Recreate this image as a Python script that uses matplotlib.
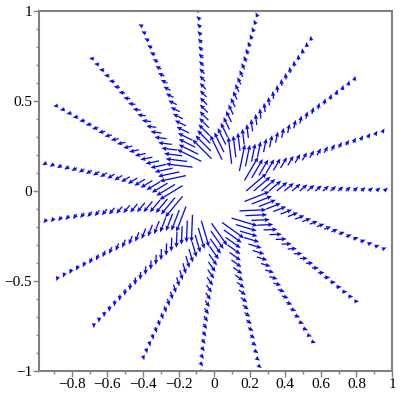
import numpy as np
import matplotlib
matplotlib.use("Agg")
import matplotlib.pyplot as plt
from matplotlib.ticker import MultipleLocator, FixedLocator

# Polar sample grid of the field plot (19 distinct spokes, 20 radii)
n_spokes = 19
theta_values = np.arange(n_spokes) * 2 * np.pi / n_spokes
r_values = [0.18, 0.223, 0.266, 0.309, 0.352, 0.395, 0.438, 0.481, 0.524, 0.568,
            0.611, 0.654, 0.697, 0.740, 0.783, 0.826, 0.869, 0.912, 0.955, 0.998]

# spiral field: radial and tangential components ~ 1/r
radial_coeff = 1.0
tangential_coeff = 0.85

x_ticks = [-0.8, -0.6, -0.4, -0.2, 0, 0.2, 0.4, 0.6, 0.8, 1]
y_ticks = [-1, -0.5, 0, 0.5, 1]

R, T = np.meshgrid(np.array(r_values), theta_values)
X = R * np.cos(T)
Y = R * np.sin(T)
Fr = radial_coeff / R
Ft = tangential_coeff / R
U = Fr * np.cos(T) - Ft * np.sin(T)
V = Fr * np.sin(T) + Ft * np.cos(T)

fig = plt.figure(figsize=(4, 4), dpi=100)
ax = fig.add_axes([39 / 400, 29 / 400, (392 - 39) / 400, (371 - 11) / 400])
ax.quiver(X, Y, U, V, color="#0a0aee", pivot="tail", angles="xy",
          scale_units="xy", scale=48, units="dots", width=1.3,
          headwidth=3.5, headlength=4.0, headaxislength=3.5,
          minshaft=1.0, minlength=0.5)

ax.set_xlim(-0.985, 1.0)
ax.set_ylim(-1.0, 1.0)
ax.xaxis.set_major_locator(FixedLocator(x_ticks))
ax.yaxis.set_major_locator(FixedLocator(y_ticks))
ax.xaxis.set_minor_locator(MultipleLocator(0.1))
ax.yaxis.set_minor_locator(MultipleLocator(0.1))


def fmt(v):
    s = ("%g" % v)
    return s.replace("-", "\u2212")


ax.set_xticklabels([fmt(v) for v in x_ticks])
ax.set_yticklabels([fmt(v) for v in y_ticks])
for lab in ax.get_xticklabels() + ax.get_yticklabels():
    lab.set_fontfamily("Liberation Serif")
    lab.set_fontsize(11)
ax.tick_params(which="major", length=4, width=1, color="#808080", pad=1)
ax.tick_params(which="minor", length=2.5, width=1, color="#808080")
for sp in ax.spines.values():
    sp.set_color("#808080")
    sp.set_linewidth(1.5)

fig.savefig("out.png", dpi=100)
